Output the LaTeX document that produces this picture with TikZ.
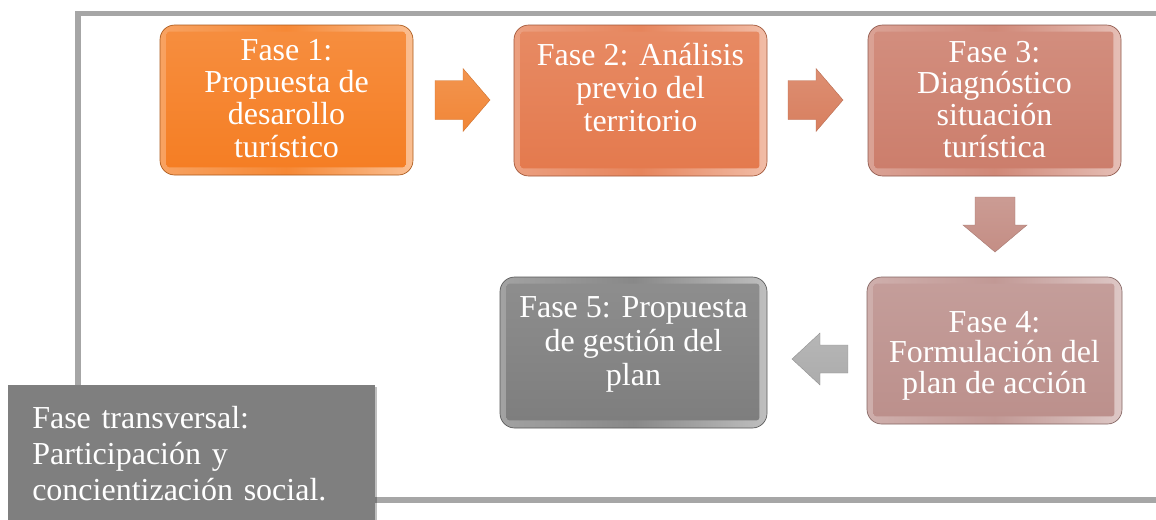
\documentclass[tikz,border=0pt]{standalone}
\usepackage{fontspec}
\setmainfont{Liberation Serif}
\usetikzlibrary{shadows}
\definecolor{cA}{RGB}{245,126,36}
\definecolor{cB}{RGB}{228,122,78}
\definecolor{cC}{RGB}{204,126,108}
\definecolor{cD}{RGB}{188,144,140}
\definecolor{cE}{RGB}{126,126,126}
\definecolor{aA}{RGB}{241,134,55}
\definecolor{aB}{RGB}{216,127,95}
\definecolor{aC}{RGB}{196,142,133}
\definecolor{aD}{RGB}{172,172,172}
\definecolor{frameGray}{RGB}{166,166,166}
\definecolor{transGray}{RGB}{127,127,127}
\newcommand\phasefont[1]{\fontsize{24pt}{#1}\selectfont}
\tikzset{
  pbox/.style={rounded corners=11pt, inner sep=0pt, draw=#1!70!black, line width=0.5pt,
    left color=#1!72!white, right color=#1!50!white, middle color=#1!92!white},
  pface/.style={rounded corners=2pt, top color=#1!88!white, bottom color=#1},
  ptext/.style={anchor=north, inner sep=0pt, align=center, text=white},
  blockarrow/.style={top color=#1!88!white, bottom color=#1, draw=#1!85!black, line width=0.3pt},
  frameline/.style={draw=frameGray, line width=4.1pt},
  transbox/.style={fill=transGray, text=white, anchor=north west, align=left,
    inner xsep=18pt, inner ysep=8.25pt, text width=239.25pt,
    drop shadow={shadow xshift=1.5pt, shadow yshift=-1pt, opacity=0.25, fill=black}}
}
\begin{document}
\begin{tikzpicture}[x=0.75pt, y=0.75pt]
\useasboundingbox (0,0) rectangle (1156,-519);
\clip (0,0) rectangle (1156,-519);

% frame
\draw[frameline] (1200,-13.5) -- (78,-13.5) -- (78,-500) -- (1200,-500);

% boxes
\node[pbox=cA, minimum width=189.75pt, minimum height=112.5pt] (f1) at (286.5,-100) {};
\node[pbox=cB, minimum width=189.75pt, minimum height=113.25pt] (f2) at (640.5,-100.5) {};
\node[pbox=cC, minimum width=189.75pt, minimum height=113.25pt] (f3) at (994.5,-100.5) {};
\node[pbox=cD, minimum width=191.25pt, minimum height=110.25pt] (f4) at (994.5,-350.5) {};
\node[pbox=cE, minimum width=200.25pt, minimum height=113.25pt] (f5) at (633.5,-352.5) {};

\foreach \n/\c in {f1/cA, f2/cB, f3/cC, f4/cD, f5/cE}{
  \shade[pface=\c] ([shift={(7,-7)}]\n.north west) rectangle ([shift={(-8,8)}]\n.south east);
}

% texts
\node[ptext, font=\phasefont{24.2pt}] (t1) at (286.5,-28) {\rule{0pt}{24pt}Fase 1:\\Propuesta de\\desarollo\\turístico};
\node[ptext, font=\phasefont{24.75pt}] (t2) at (640.5,-33) {\rule{0pt}{24pt}Fase 2: Análisis\\previo del\\territorio};
\node[ptext, font=\phasefont{23.75pt}] (t3) at (994.5,-30) {\rule{0pt}{24pt}Fase 3:\\Diagnóstico\\situación\\turística};
\node[ptext, font=\phasefont{22.9pt}] (t4) at (994.5,-300) {\rule{0pt}{24pt}Fase 4:\\Formulación del\\plan de acción};
\node[ptext, font=\phasefont{25.5pt}] (t5) at (633.5,-285) {\rule{0pt}{24pt}Fase 5: Propuesta\\de gestión del\\plan};

% block arrows
\shade[blockarrow=aA] (435,-80.5) -- (463,-80.5) -- (463,-68.5) -- (490,-100) -- (463,-131.5) -- (463,-119.5) -- (435,-119.5) -- cycle;
\shade[blockarrow=aB] (788,-80.5) -- (816,-80.5) -- (816,-68.5) -- (843,-100) -- (816,-131.5) -- (816,-119.5) -- (788,-119.5) -- cycle;
\shade[blockarrow=aC] (975,-197) -- (1015,-197) -- (1015,-225) -- (1027,-225) -- (995,-252) -- (963,-225) -- (975,-225) -- cycle;
\shade[blockarrow=aD] (848,-345) -- (820,-345) -- (820,-333) -- (792,-359) -- (820,-385) -- (820,-373) -- (848,-373) -- cycle;

% transversal phase
\node[transbox, font=\phasefont{27pt}] (ft) at (8,-385)
  {\rule{0pt}{24pt}Fase transversal:\\Participación y\\concientización social.\rule[-20pt]{0pt}{0pt}};
\end{tikzpicture}
\end{document}
